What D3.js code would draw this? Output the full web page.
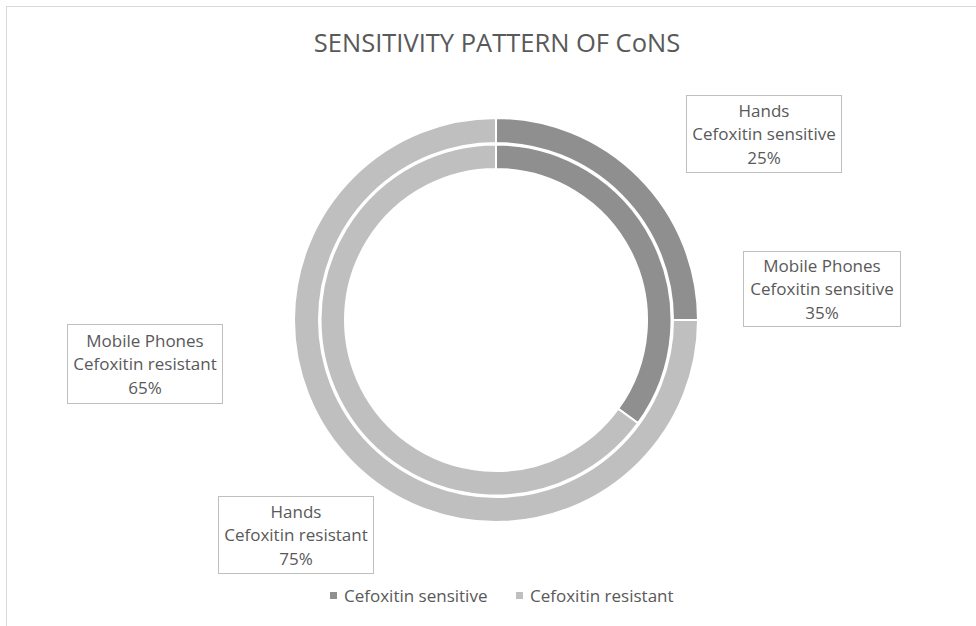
<!DOCTYPE html>
<html>
<head>
<meta charset="utf-8">
<script src="https://cdn.jsdelivr.net/npm/d3@7"></script>
<style>
  html, body { margin: 0; padding: 0; background: #fff; }
  svg text { font-family: "Open Sans", "Noto Sans", sans-serif; fill: #595959; }
</style>
</head>
<body>
<svg id="chart" width="976" height="626"></svg>
<script>
// Categories and series
const categories = ["Cefoxitin sensitive", "Cefoxitin resistant"];
const ringNames = ["Hands", "Mobile Phones"];          // outer ring, inner ring
const handsValues = [25, 75];
const mobileValues = [35, 65];
const colors = ["#8f8f8f", "#bfbfbf"];

const svg = d3.select("#chart");
const W = 976, H = 626;

// chart frame
svg.append("rect")
  .attr("x", 6.5).attr("y", 6.5)
  .attr("width", W + 10).attr("height", H + 10)
  .attr("fill", "none").attr("stroke", "#d9d9d9").attr("stroke-width", 1);

// title
svg.append("text")
  .attr("x", 497).attr("y", 52)
  .attr("text-anchor", "middle")
  .style("font-size", "25.5px")
  .text("SENSITIVITY PATTERN OF CoNS");

const cx = 496, cy = 320;
const g = svg.append("g").attr("transform", `translate(${cx},${cy})`);

const pie = d3.pie().sort(null).value(d => d);
const color = d3.scaleOrdinal().domain(categories).range(colors);

const rings = [
  { name: ringNames[0], values: handsValues, inner: 177, outer: 202 },
  { name: ringNames[1], values: mobileValues, inner: 151, outer: 175.5 }
];

rings.forEach(ring => {
  const arc = d3.arc().innerRadius(ring.inner).outerRadius(ring.outer);
  g.selectAll(null)
    .data(pie(ring.values))
    .enter().append("path")
    .attr("d", arc)
    .attr("fill", (d, i) => color(categories[i]))
    .attr("stroke", "#fff")
    .attr("stroke-width", 2);
});

// data label boxes
const labelBoxes = [
  { ring: 0, idx: 0, x: 686, y: 95, w: 155, h: 77 },
  { ring: 1, idx: 0, x: 743, y: 251, w: 157, h: 75 },
  { ring: 1, idx: 1, x: 67, y: 324, w: 155, h: 79 },
  { ring: 0, idx: 1, x: 218, y: 496, w: 155, h: 77 }
];

labelBoxes.forEach(b => {
  const ring = rings[b.ring];
  const lines = [ring.name, categories[b.idx], ring.values[b.idx] + "%"];
  const lg = svg.append("g");
  lg.append("rect")
    .attr("x", b.x + 0.5).attr("y", b.y + 0.5)
    .attr("width", b.w).attr("height", b.h)
    .attr("fill", "#fff").attr("stroke", "#bfbfbf").attr("stroke-width", 1);
  const midY = b.y + b.h / 2 + 1;
  lines.forEach((t, i) => {
    lg.append("text")
      .attr("x", b.x + b.w / 2 + 0.5)
      .attr("y", midY + (i - 1) * 23.5)
      .attr("dy", "0.35em")
      .attr("text-anchor", "middle")
      .style("font-size", "17px")
      .text(t);
  });
});

// legend
const legendItems = [
  { x: 330, label: categories[0] },
  { x: 516, label: categories[1] }
];
legendItems.forEach((it, i) => {
  svg.append("rect")
    .attr("x", it.x).attr("y", 592)
    .attr("width", 7).attr("height", 7)
    .attr("fill", color(it.label));
  svg.append("text")
    .attr("x", it.x + 14).attr("y", 596)
    .attr("dy", "0.35em")
    .style("font-size", "17px")
    .text(it.label);
});
</script>
</body>
</html>
